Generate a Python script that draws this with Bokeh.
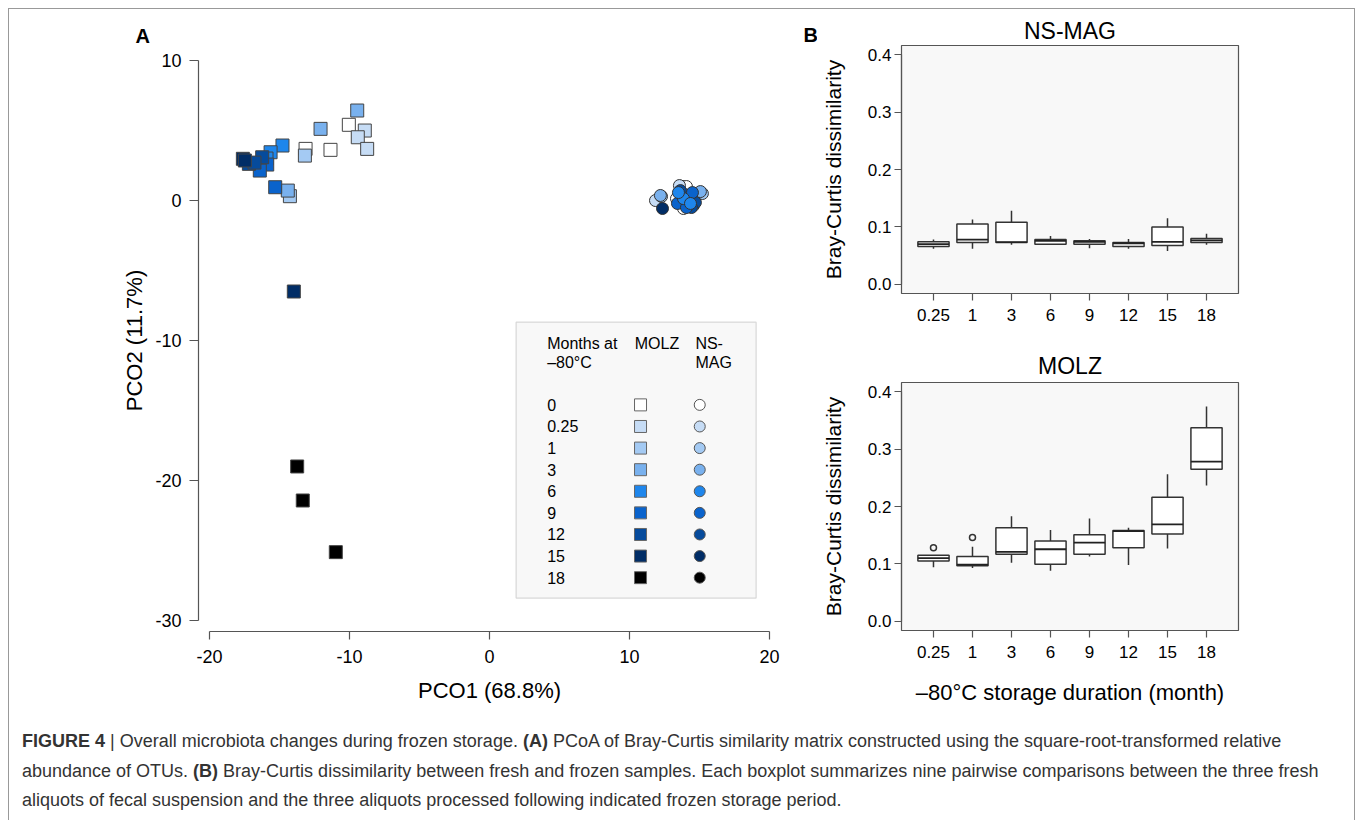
from bokeh.plotting import figure
from bokeh.models import Range1d, FixedTicker, PrintfTickFormatter, BoxAnnotation, Div
from bokeh.layouts import row, column
from bokeh.embed import file_html
from bokeh.resources import INLINE
from bokeh.core.properties import value

# ---------------- data ----------------
months = ["0", "0.25", "1", "3", "6", "9", "12", "15", "18"]

# Panel A: PCoA scores (MOLZ squares), month index per point
molz_month = [0, 0, 0, 1, 1, 1, 2, 2, 2, 3, 3, 3, 4, 4, 4, 5, 5, 5, 6, 6, 6, 7, 7, 7, 8, 8, 8]
molz_pco1 = [-10.05, -11.36, -13.14, -8.91, -9.41, -8.74, -13.19, -14.26, -16.14,
             -9.45, -12.07, -14.41, -14.79, -15.64, -15.93, -15.88, -16.41, -15.31,
             -17.19, -16.24, -16.79, -17.62, -17.48, -13.98, -13.74, -13.34, -10.98]
molz_pco2 = [5.41, 3.62, 3.69, 5.00, 4.52, 3.69, 3.21, 0.31, 2.79,
             6.43, 5.12, 0.71, 3.93, 3.45, 3.00, 2.57, 2.14, 0.95,
             2.62, 3.09, 2.71, 2.98, 2.86, -6.50, -19.00, -21.43, -25.12]

# Panel A: PCoA scores (NS-MAG circles), month index per point
nsmag_month = [8, 8, 8, 7, 7, 0, 0, 0, 1, 1, 1, 2, 2, 2, 3, 3, 3, 6, 6, 6, 5, 5, 5, 4, 4, 4, 7]
nsmag_pco1 = [13.79, 14.14, 13.64, 13.93, 14.36, 13.86, 14.07, 13.36, 13.57, 11.86, 14.57,
              15.21, 12.29, 14.21, 12.21, 15.07, 13.93, 14.71, 14.43, 13.64,
              13.43, 14.50, 14.07, 13.86, 14.36, 13.50, 12.36]
nsmag_pco2 = [1.00, 0.29, -0.07, 0.79, 0.29, -0.57, 1.00, 0.14, 1.07, 0.00, -0.36,
              0.50, 0.29, 0.00, 0.36, 0.64, 0.43, -0.14, -0.50, 0.71,
              -0.21, 0.57, -0.50, 0.14, -0.21, 0.57, -0.57]

a_xticks = [-20, -10, 0, 10, 20]
a_xtick_labels = ["-20", "-10", "0", "10", "20"]
a_yticks = [-30, -20, -10, 0, 10]
a_ytick_labels = ["-30", "-20", "-10", "0", "10"]

# Panel B: boxplot statistics
box_months = ["0.25", "1", "3", "6", "9", "12", "15", "18"]
nsmag_wlo = [0.062, 0.062, 0.069, 0.069, 0.063, 0.062, 0.058, 0.069]
nsmag_q1 = [0.066, 0.073, 0.073, 0.070, 0.070, 0.066, 0.0675, 0.0727]
nsmag_med = [0.070, 0.078, 0.0735, 0.0755, 0.074, 0.0715, 0.074, 0.0767]
nsmag_q3 = [0.074, 0.105, 0.108, 0.078, 0.076, 0.073, 0.100, 0.0796]
nsmag_whi = [0.078, 0.113, 0.128, 0.084, 0.079, 0.079, 0.115, 0.088]

molz_wlo = [0.094, 0.093, 0.102, 0.088, 0.113, 0.098, 0.127, 0.2365]
molz_q1 = [0.105, 0.0966, 0.117, 0.0995, 0.117, 0.128, 0.152, 0.265]
molz_med = [0.110, 0.0988, 0.121, 0.1255, 0.137, 0.157, 0.169, 0.278]
molz_q3 = [0.115, 0.1127, 0.163, 0.140, 0.151, 0.158, 0.216, 0.337]
molz_whi = [0.115, 0.130, 0.183, 0.159, 0.179, 0.163, 0.256, 0.374]
molz_out_month = ["0.25", "1"]
molz_out_val = [0.128, 0.146]
b_yticks = [0.0, 0.1, 0.2, 0.3, 0.4]

# ---------------- styles ----------------
month_colors = ["#ffffff", "#c6dcf5", "#a4caf3", "#79b1ee", "#1e86ec",
                "#0a63cc", "#064b9c", "#012d66", "#000000"]
FONT = "Liberation Sans"


def style_axis(ax, tick_size, label_size, tick_len, standoff, label_standoff):
    ax.major_label_text_font = FONT
    ax.major_label_text_font_size = tick_size
    ax.major_label_text_color = "black"
    ax.axis_label_text_font = FONT
    ax.axis_label_text_font_size = label_size
    ax.axis_label_text_font_style = "normal"
    ax.axis_label_text_color = "black"
    ax.major_tick_out = tick_len
    ax.major_tick_in = 0
    ax.minor_tick_out = 0
    ax.minor_tick_in = 0
    ax.axis_line_color = "#555555"
    ax.major_tick_line_color = "#555555"
    ax.axis_line_width = 1.2
    ax.major_tick_line_width = 1.2
    ax.major_label_standoff = standoff
    ax.axis_label_standoff = label_standoff


def style_title(t, text, size, bold, align, offset, standoff):
    t.text = text
    t.text_font = FONT
    t.text_font_size = size
    t.text_font_style = "bold" if bold else "normal"
    t.text_color = "black"
    t.align = align
    t.offset = offset
    t.standoff = standoff


# ---------------- Panel A ----------------
pA = figure(width=782, height=707, x_range=Range1d(-20.79, 20.79), y_range=Range1d(-30.79, 10.79),
            output_backend="svg", toolbar_location=None,
            min_border_left=189, min_border_right=11, min_border_top=40, min_border_bottom=85)
pA.outline_line_color = None
pA.xgrid.visible = False
pA.ygrid.visible = False
pA.xaxis.ticker = FixedTicker(ticks=a_xticks)
pA.yaxis.ticker = FixedTicker(ticks=a_yticks)
pA.xaxis.major_label_overrides = dict(zip(a_xticks, a_xtick_labels))
pA.yaxis.major_label_overrides = dict(zip(a_yticks, a_ytick_labels))
pA.xaxis.bounds = (a_xticks[0], a_xticks[-1])
pA.yaxis.bounds = (a_yticks[0], a_yticks[-1])
pA.xaxis.axis_label = "PCO1 (68.8%)"
pA.yaxis.axis_label = "PCO2 (11.7%)"
style_axis(pA.xaxis[0], "18px", "22px", 8, 10, 12)
style_axis(pA.yaxis[0], "18px", "22px", 9, 8, 5)
style_title(pA.title, "A", "20px", True, "left", -63, 6)

molz_colors = [month_colors[m] for m in molz_month]
nsmag_colors = [month_colors[m] for m in nsmag_month]
pA.scatter(molz_pco1, molz_pco2, marker="square", size=13, fill_color=molz_colors,
           line_color="#444444", line_width=1)
pA.scatter(nsmag_pco1, nsmag_pco2, marker="circle", size=12, fill_color=nsmag_colors,
           line_color="#333333", line_width=1)

# legend box (decoration)
pA.add_layout(BoxAnnotation(left=1.9, right=19.05, top=-8.69, bottom=-28.4,
                            fill_color="#f8f8f8", fill_alpha=1, line_color="#888888",
                            line_width=1.2, level="underlay"))
leg_text_x = 4.12
leg_sq_x = 10.79
leg_ci_x = 15.02
head_y1, head_y2 = -10.24, -11.55
row_y0, row_dy = -14.6, -1.543
leg_ys = [row_y0 + row_dy * i for i in range(len(months))]
txt_kw = dict(text_font=value(FONT), text_font_size="16px", text_baseline="middle",
              text_align="left", text_color="black")
pA.text(x=[leg_text_x, leg_text_x], y=[head_y1, head_y2], text=["Months at", "\u201380\u00b0C"], **txt_kw)
pA.text(x=[10.38], y=[head_y1], text=["MOLZ"], **txt_kw)
pA.text(x=[14.71, 14.71], y=[head_y1, head_y2], text=["NS-", "MAG"], **txt_kw)
pA.text(x=[leg_text_x] * len(months), y=leg_ys, text=months, **txt_kw)
pA.scatter([leg_sq_x] * len(months), leg_ys, marker="square", size=12, fill_color=month_colors,
           line_color="#666666", line_width=1)
pA.scatter([leg_ci_x] * len(months), leg_ys, marker="circle", size=11, fill_color=month_colors,
           line_color="#555555", line_width=1)


# ---------------- Panel B ----------------
def box_panel(title, width, height, left, top, bottom, title_standoff,
              wlo, q1, med, q3, whi, show_xlabel):
    p = figure(width=width, height=height, x_range=Range1d(0.18, 8.82), y_range=Range1d(-0.016, 0.416),
               output_backend="svg", toolbar_location=None,
               min_border_left=left, min_border_right=width - left - 337,
               min_border_top=top, min_border_bottom=bottom)
    style_title(p.title, title, "23px", False, "center", 0, title_standoff)
    p.background_fill_color = "#f8f8f8"
    p.border_fill_color = "white"
    p.outline_line_color = "#555555"
    p.outline_line_width = 1.2
    p.xgrid.visible = False
    p.ygrid.visible = False
    pos = list(range(1, len(box_months) + 1))
    p.xaxis.ticker = FixedTicker(ticks=pos)
    p.xaxis.major_label_overrides = {i: lab for i, lab in zip(pos, box_months)}
    p.yaxis.ticker = FixedTicker(ticks=b_yticks)
    p.yaxis.formatter = PrintfTickFormatter(format="%.1f")
    p.xaxis.bounds = (1, len(box_months))
    p.yaxis.bounds = (b_yticks[0], b_yticks[-1])
    p.yaxis.axis_label = "Bray-Curtis dissimilarity"
    if show_xlabel:
        p.xaxis.axis_label = "\u201380\u00b0C storage duration (month)"
    style_axis(p.xaxis[0], "17px", "22px", 7, 8, 19)
    style_axis(p.yaxis[0], "17px", "21px", 7, 3, 20)
    hw = 0.4
    lc = "#333333"
    p.segment(x0=pos, x1=pos, y0=q3, y1=whi, line_color=lc, line_width=1.5)
    p.segment(x0=pos, x1=pos, y0=wlo, y1=q1, line_color=lc, line_width=1.5)
    p.vbar(x=pos, width=2 * hw, bottom=q1, top=q3, fill_color="white", line_color=lc, line_width=1.5)
    p.segment(x0=[x - hw for x in pos], x1=[x + hw for x in pos], y0=med, y1=med,
              line_color="#222222", line_width=1.8)
    return p


pB1 = box_panel("NS-MAG", 537, 322, 84, 36, 38, 3,
                nsmag_wlo, nsmag_q1, nsmag_med, nsmag_q3, nsmag_whi, False)
pB2 = box_panel("MOLZ", 563, 385, 110, 51, 86, 8,
                molz_wlo, molz_q1, molz_med, molz_q3, molz_whi, True)
out_pos = [box_months.index(m) + 1 for m in molz_out_month]
pB2.scatter(out_pos, molz_out_val, marker="circle", size=6, fill_color=None,
            line_color="#333333", line_width=1.5)

# narrow blank figure that carries the panel letter "B"
pBl = figure(width=26, height=322, output_backend="svg", toolbar_location=None,
             x_axis_location=None, y_axis_location=None,
             min_border_left=0, min_border_right=0, min_border_top=36, min_border_bottom=38)
pBl.outline_line_color = None
pBl.grid.visible = False
style_title(pBl.title, "B", "20px", True, "left", 12, 0)

# ---------------- caption ----------------
cap_html = (
    "<div style=\"font-family:'Liberation Sans',Arial,sans-serif;"
    "font-size:18px;line-height:29.5px;color:#333;white-space:nowrap;padding:11px 0 0 13px;\">"
    "<b>FIGURE 4</b> | Overall microbiota changes during frozen storage. <b>(A)</b> PCoA of Bray-Curtis "
    "similarity matrix constructed using the square-root-transformed relative<br>"
    "abundance of OTUs. <b>(B)</b> Bray-Curtis dissimilarity between fresh and frozen samples. Each boxplot "
    "summarizes nine pairwise comparisons between the three fresh<br>"
    "aliquots of fecal suspension and the three aliquots processed following indicated frozen storage period."
    "</div>"
)
cap = Div(text=cap_html, width=1345, height=104, margin=0)

layout = column(row(pA, column(row(pBl, pB1), pB2)), cap,
                styles={"border": "1px solid #999999", "border-bottom": "none",
                        "margin-left": "8px", "margin-top": "8px"})

open("out.html", "w").write(file_html(layout, INLINE))
